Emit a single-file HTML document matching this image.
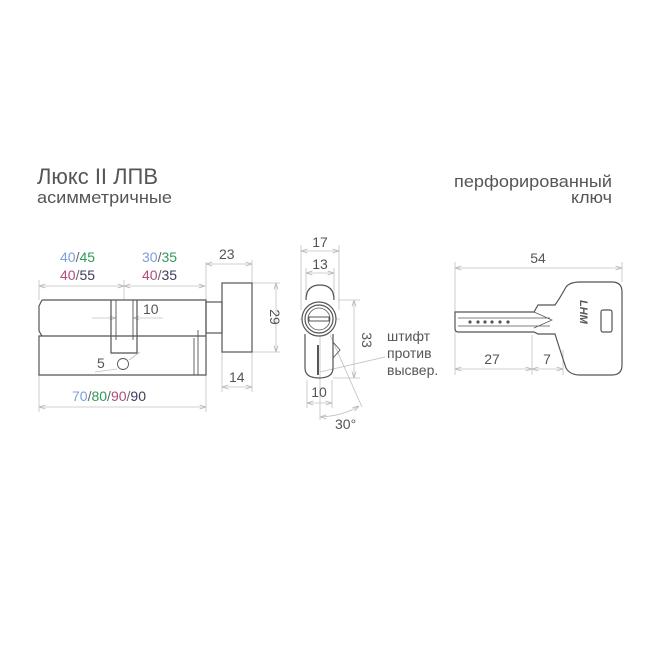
<!DOCTYPE html>
<html><head><meta charset="utf-8"><style>html,body{margin:0;padding:0;background:#fff}svg{display:block}text{font-family:"Liberation Sans","DejaVu Sans",sans-serif}</style></head>
<body>
<svg width="650" height="650" viewBox="0 0 650 650" xmlns="http://www.w3.org/2000/svg">
<defs><marker id="a" viewBox="0 0 8 6" refX="8" refY="3" markerWidth="8" markerHeight="6" orient="auto-start-reverse"><path d="M0,0.5 L8,3 L0,5.5" fill="none" stroke="#b5b5b5" stroke-width="1"/></marker></defs>
<g fill="#555">
<text x="37" y="184" font-size="22" textLength="121" lengthAdjust="spacingAndGlyphs">Люкс II ЛПВ</text>
<text x="37" y="203" font-size="17" textLength="135" lengthAdjust="spacingAndGlyphs">асимметричные</text>
<text x="612" y="187" font-size="17" text-anchor="end" textLength="158" lengthAdjust="spacingAndGlyphs">перфорированный</text>
<text x="612" y="203" font-size="17" text-anchor="end" textLength="41" lengthAdjust="spacingAndGlyphs">ключ</text>
</g>
<!-- dims light -->
<g stroke="#c0c0c0" stroke-width="0.8" fill="none">
<line x1="39" y1="280" x2="39" y2="300"/><line x1="124" y1="280" x2="124" y2="300"/><line x1="206" y1="262" x2="206" y2="300"/>
<line x1="39" y1="286" x2="124" y2="286" marker-start="url(#a)" marker-end="url(#a)"/>
<line x1="124" y1="286" x2="205" y2="286" marker-start="url(#a)" marker-end="url(#a)"/>
<line x1="252" y1="260" x2="252" y2="283"/>
<line x1="206" y1="264" x2="252" y2="264" marker-start="url(#a)" marker-end="url(#a)"/>
<line x1="252" y1="283" x2="280" y2="283"/><line x1="252" y1="352" x2="280" y2="352"/>
<line x1="276" y1="283" x2="276" y2="352" marker-start="url(#a)" marker-end="url(#a)"/>
<line x1="222" y1="352" x2="222" y2="392"/><line x1="252" y1="352" x2="252" y2="392"/>
<line x1="222" y1="387" x2="252" y2="387" marker-start="url(#a)" marker-end="url(#a)"/>
<line x1="39" y1="375" x2="39" y2="412"/><line x1="206" y1="375" x2="206" y2="412"/>
<line x1="39" y1="407" x2="206" y2="407" marker-start="url(#a)" marker-end="url(#a)"/>
<line x1="92" y1="318" x2="116" y2="318" marker-end="url(#a)"/><line x1="163" y1="318" x2="133" y2="318" marker-end="url(#a)"/>
<line x1="95" y1="372" x2="117" y2="369"/><line x1="140" y1="352" x2="129" y2="360"/>
<!-- front -->
<line x1="301" y1="245" x2="301" y2="310"/><line x1="339" y1="245" x2="339" y2="310"/>
<line x1="301" y1="251" x2="339" y2="251" marker-start="url(#a)" marker-end="url(#a)"/>
<line x1="306" y1="268" x2="306" y2="300"/><line x1="334" y1="268" x2="334" y2="300"/>
<line x1="306" y1="273" x2="334" y2="273" marker-start="url(#a)" marker-end="url(#a)"/>
<line x1="338" y1="300" x2="360" y2="300"/><line x1="333" y1="378" x2="360" y2="378"/>
<line x1="354" y1="300" x2="354" y2="378" marker-start="url(#a)" marker-end="url(#a)"/>
<line x1="307" y1="380" x2="307" y2="408"/><line x1="332" y1="380" x2="332" y2="408"/>
<line x1="307" y1="403" x2="332" y2="403" marker-start="url(#a)" marker-end="url(#a)"/>
<line x1="320" y1="310" x2="320" y2="420"/><line x1="330" y1="335" x2="362" y2="407"/>
<path d="M320,417 Q343,416 359,406" marker-start="url(#a)" marker-end="url(#a)"/>
<line x1="300" y1="319" x2="340" y2="319"/>
<line x1="320" y1="372" x2="385" y2="357"/>
<!-- key -->
<line x1="455" y1="262" x2="455" y2="375"/><line x1="622" y1="262" x2="622" y2="282"/>
<line x1="455" y1="268" x2="622" y2="268" marker-start="url(#a)" marker-end="url(#a)"/>
<line x1="532" y1="335" x2="532" y2="375"/><line x1="563" y1="350" x2="563" y2="375"/>
<line x1="455" y1="369" x2="532" y2="369" marker-start="url(#a)" marker-end="url(#a)"/>
<line x1="532" y1="369" x2="563" y2="369" marker-start="url(#a)" marker-end="url(#a)"/>
</g>
<!-- cylinder -->
<g stroke="#555" stroke-width="1.2" fill="none">
<path d="M42,300 H206 V375 H39 V336 H42 M42,300 L39,306 V331 L42,336 H206"/>
<path d="M111,300 V353 H137 V300"/>
<path d="M116,300 V340 M133,300 V340" stroke-width="0.9"/>
<path d="M194,338 V375 M198,330 V375" stroke-width="0.9"/>
<rect x="206" y="302" width="16" height="31"/>
<rect x="222" y="283" width="30" height="69"/>
<circle cx="123" cy="364" r="5.5" stroke-width="0.9"/>
<!-- front view -->
<path d="M306,300 Q306,285 320,285 Q334,285 334,300"/>
<path d="M305,334 V368 Q305,378 319,378 Q333,378 333,368 V334"/>
<path d="M333,342 L340,350 L333,358" stroke-width="0.9"/>
<path d="M318,345 V375" stroke-width="2"/>
<circle cx="319" cy="319" r="17" fill="#fff"/>
<circle cx="319" cy="319" r="14"/>
<circle cx="319" cy="319" r="11" stroke-width="0.8"/>
<rect x="309" y="317" width="20" height="4" stroke-width="1"/>
<!-- key -->
<path d="M455,312 H534 L538,305 H555 Q560,298 566,287 Q570,282 580,282 H612 Q622,282 622,292 V365 Q622,375 612,375 H580 Q570,375 566,368 Q560,350 555,334 H538 L534,332 H458 Q455,332 455,328 Z"/>
<path d="M458,318 H550 M458,326 H550 M534,312 L552,320 L534,328" stroke-width="0.7"/>
<rect x="601" y="310" width="11" height="22" rx="2"/>
</g>
<g fill="#555"><circle cx="470" cy="322" r="1.6"/><circle cx="478" cy="322" r="1.6"/><circle cx="485" cy="322" r="1.6"/><circle cx="492" cy="322" r="1.6"/><circle cx="500" cy="322" r="1.6"/><circle cx="508" cy="322" r="1.6"/></g>
<text x="580" y="300" font-size="11" font-weight="bold" fill="#555" transform="rotate(90 580 300)" font-style="italic">LHM</text>
<!-- labels -->
<g font-size="14">
<text x="60" y="262"><tspan fill="#7c9ee0">40</tspan><tspan fill="#666">/</tspan><tspan fill="#2f9a5a">45</tspan></text>
<text x="60" y="280"><tspan fill="#b04c80">40</tspan><tspan fill="#666">/</tspan><tspan fill="#3c3c5c">55</tspan></text>
<text x="142" y="262"><tspan fill="#7c9ee0">30</tspan><tspan fill="#666">/</tspan><tspan fill="#2f9a5a">35</tspan></text>
<text x="142" y="280"><tspan fill="#b04c80">40</tspan><tspan fill="#666">/</tspan><tspan fill="#3c3c5c">35</tspan></text>
<text x="72" y="401"><tspan fill="#7c9ee0">70</tspan><tspan fill="#666">/</tspan><tspan fill="#2f9a5a">80</tspan><tspan fill="#666">/</tspan><tspan fill="#b04c80">90</tspan><tspan fill="#666">/</tspan><tspan fill="#3c3c5c">90</tspan></text>
</g>
<g font-size="14" fill="#555">
<text x="219" y="259">23</text>
<text x="270" y="317" transform="rotate(90 270 317)" text-anchor="middle">29</text>
<text x="229" y="382">14</text>
<text x="143" y="314">10</text>
<text x="97" y="368">5</text>
<text x="320" y="247" text-anchor="middle">17</text>
<text x="320" y="269" text-anchor="middle">13</text>
<text x="362" y="340" transform="rotate(90 362 340)" text-anchor="middle">33</text>
<text x="319" y="397" text-anchor="middle">10</text>
<text x="335" y="429">30°</text>
<text x="387" y="341">штифт</text>
<text x="387" y="358">против</text>
<text x="387" y="375">высвер.</text>
<text x="538" y="263" text-anchor="middle">54</text>
<text x="492" y="364" text-anchor="middle">27</text>
<text x="547" y="364" text-anchor="middle">7</text>
</g>
</svg>
</body></html>
